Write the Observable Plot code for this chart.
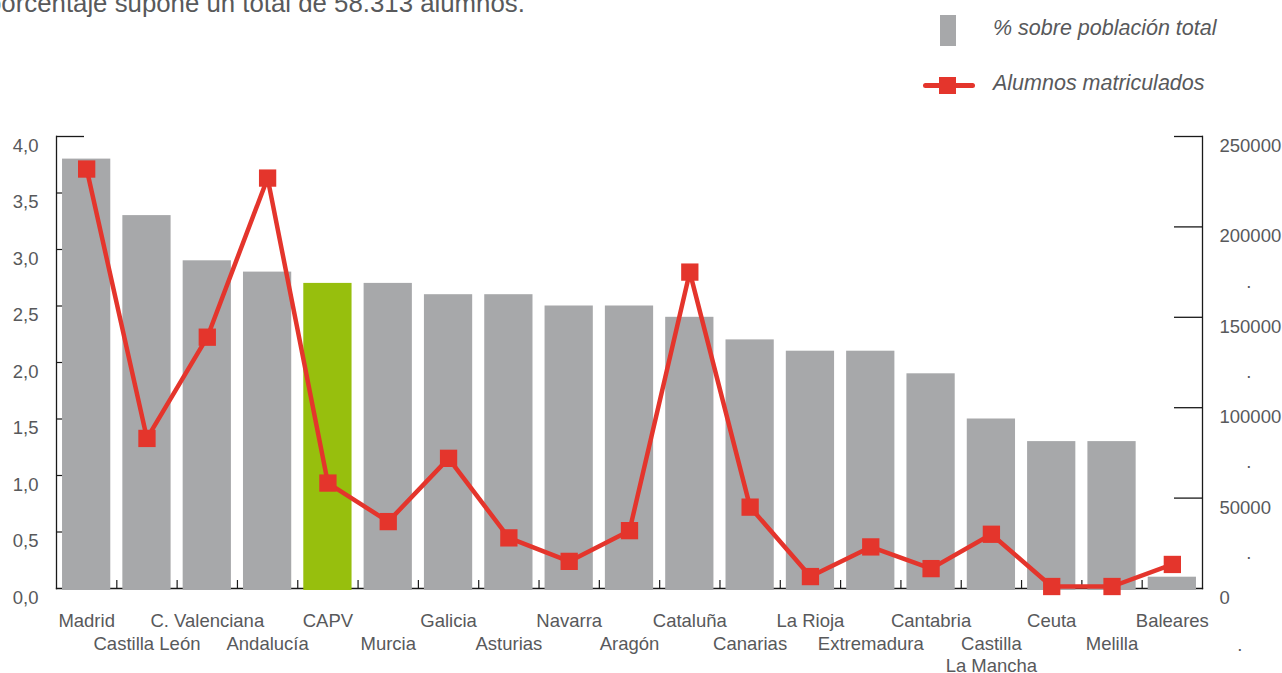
<!DOCTYPE html>
<html><head><meta charset="utf-8">
<script src="https://cdn.jsdelivr.net/npm/d3@7"></script>
<script src="https://cdn.jsdelivr.net/npm/@observablehq/plot@0.6"></script>
<style>
body{margin:0;background:#fff;font-family:"Liberation Sans",Arial,sans-serif;color:#58595b;}
#wrap{position:relative;width:1282px;height:673px;overflow:hidden;}
#header{position:relative;height:110px;}
#title{position:absolute;left:-13px;top:-10px;font-size:25.8px;line-height:26px;white-space:nowrap;}
.leg{position:absolute;font-style:italic;font-size:21.5px;line-height:26px;white-space:nowrap;}
#swGray{position:absolute;left:940px;top:15px;width:16px;height:31px;background:#a7a8aa;}
#swLine{position:absolute;left:923px;top:83px;width:52px;height:4.5px;border-radius:3px;background:#e4352c;}
#swSq{position:absolute;left:939px;top:77px;width:17px;height:17px;background:#e4352c;}
</style></head><body>
<div id="wrap">
  <div id="header">
    <div id="title">porcentaje supone un total de 58.313 alumnos.</div>
    <div id="swGray"></div>
    <div class="leg" style="left:993px;top:15px;">% sobre población total</div>
    <div id="swLine"></div><div id="swSq"></div>
    <div class="leg" style="left:993px;top:70px;">Alumnos matriculados</div>
  </div>
  <div id="chart"></div>
</div>
<script>
const regions = ["Madrid","Castilla León","C. Valenciana","Andalucía","CAPV","Murcia","Galicia","Asturias","Navarra","Aragón","Cataluña","Canarias","La Rioja","Extremadura","Cantabria","Castilla La Mancha","Ceuta","Melilla","Baleares"];
const labels = ["Madrid","Castilla León","C. Valenciana","Andalucía","CAPV","Murcia","Galicia","Asturias","Navarra","Aragón","Cataluña","Canarias","La Rioja","Extremadura","Cantabria","Castilla\nLa Mancha","Ceuta","Melilla","Baleares"];
const pct = [3.8,3.3,2.9,2.8,2.7,2.7,2.6,2.6,2.5,2.5,2.4,2.2,2.1,2.1,1.9,1.5,1.3,1.3,0.1];
const alumnos = [232000,83000,139000,227000,58313,37000,72000,28000,15000,32000,175000,45000,6600,23000,11000,30000,1100,1100,13300];
const leftTicks = [0,0.5,1,1.5,2,2.5,3,3.5,4];
const rightTicks = [0,50000,100000,150000,200000,250000];
const rightMinor = [25000,75000,125000,175000];
const highlight = "CAPV";

const gray = "#a7a8aa", green = "#97bf0d", red = "#e4352c", ink = "#58595b", axisInk = "#1a1a1a";
const data = regions.map((r,i)=>({region:r, label:labels[i], pct:pct[i], alumnos:alumnos[i], row:i%2}));
const yMax = leftTicks[leftTicks.length-1], rMax = rightTicks[rightTicks.length-1];
const k = yMax / rMax;

const W = 1282, H = 563, ML = 56, MR = 80, MT = 26, MB = 85;
const padIn = 0.2, padOut = 0.1;
const step = (W - ML - MR) / (regions.length - padIn + 2*padOut);
const fmtL = d => d.toFixed(1).replace(".", ",");

const chart = Plot.plot({
  width: W, height: H, marginLeft: ML, marginRight: MR, marginTop: MT, marginBottom: MB,
  style: {fontFamily: "'Liberation Sans', Arial, sans-serif", fontSize: "18.5px", color: ink, background: "#fff"},
  x: {domain: regions, paddingInner: padIn, paddingOuter: padOut, round: false, label: null},
  y: {domain: [0, yMax], label: null},
  marks: [
    Plot.frame({anchor: "left", stroke: axisInk, strokeWidth: 1.3}),
    Plot.frame({anchor: "right", stroke: axisInk, strokeWidth: 1.3}),
    Plot.frame({anchor: "bottom", stroke: axisInk, strokeWidth: 1.3}),
    Plot.axisY(leftTicks.filter(v => v > 0 && v < yMax), {anchor: "left", tickSize: 7, dx: 7, stroke: axisInk, strokeWidth: 1.2, fill: "none", label: null}),
    Plot.axisY([yMax], {anchor: "left", tickSize: 28, dx: 28, stroke: axisInk, strokeWidth: 1.3, fill: "none", label: null}),
    Plot.axisY(leftTicks, {anchor: "left", tickSize: 0, tickPadding: 18, dy: 9.5, tickFormat: fmtL, fill: ink, label: null}),
    Plot.axisY(rightTicks.slice(1).map(v => v*k), {anchor: "right", tickSize: 29, dx: -29, stroke: axisInk, strokeWidth: 1.3, fill: "none", label: null}),
    Plot.axisY(rightTicks.map(v => v*k), {anchor: "right", tickSize: 0, tickPadding: 17, dy: 9.5, tickFormat: d => String(Math.round(d/k)), fill: ink, label: null}),
    Plot.text(rightMinor, {y: v => v*k, text: () => ".", frameAnchor: "right", dx: 49, dy: 9.5, fill: ink}),
    Plot.text(["."], {frameAnchor: "bottom-right", dx: 40, dy: 62, fill: ink}),
    Plot.axisX(regions.slice(1), {anchor: "bottom", tickSize: 8, dx: -step/2, dy: -8, stroke: axisInk, strokeWidth: 1.2, fill: "none", label: null}),
    Plot.barY(data, {x: "region", y: "pct", fill: d => d.region === highlight ? green : gray, insetBottom: -2}),
    Plot.line(data, {x: "region", y: d => d.alumnos*k, stroke: red, strokeWidth: 4.5}),
    Plot.dot(data, {x: "region", y: d => d.alumnos*k, symbol: "square", r: 9.76, fill: red, stroke: "none"}),
    Plot.text(data.filter(d => d.row === 0), {x: "region", text: "label", frameAnchor: "bottom", lineAnchor: "top", dy: 23, lineHeight: 1.19, fill: ink}),
    Plot.text(data.filter(d => d.row === 1), {x: "region", text: "label", frameAnchor: "bottom", lineAnchor: "top", dy: 46, lineHeight: 1.19, fill: ink})
  ]
});
document.getElementById("chart").append(chart);
</script>
</body></html>
